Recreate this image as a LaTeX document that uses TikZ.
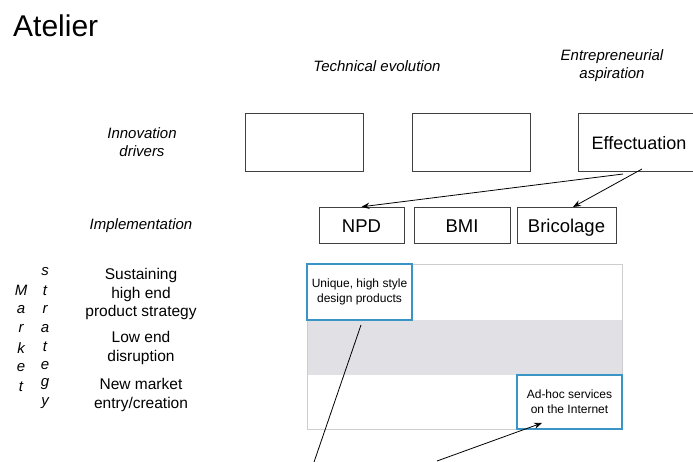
\documentclass[tikz,border=0pt]{standalone}
\usepackage{fontspec}
\setmainfont{Liberation Sans}
\usetikzlibrary{arrows.meta, positioning}
\definecolor{cBlue}{RGB}{58,148,198}
\definecolor{cBand}{RGB}{225,225,229}
\definecolor{cFrame}{RGB}{205,205,208}
\tikzset{
	drvbox/.style={rectangle, draw=black!75, minimum width=118pt, minimum height=58pt, inner sep=0pt, text height=14pt, text depth=0pt, font=\fontsize{18}{20}\selectfont},
	impbox/.style={rectangle, draw=black!75, minimum height=36pt, inner sep=0pt, text height=15pt, text depth=0pt, font=\fontsize{18.5}{20}\selectfont},
	cellbox/.style={rectangle, draw=cBlue, line width=1.3pt, fill=white, inner sep=0pt, align=center, font=\fontsize{12}{15}\selectfont},
	rowlabel/.style={align=center, font=\fontsize{15.5}{18.5}\selectfont},
	headlabel/.style={align=center, font=\itshape\fontsize{15}{18}\selectfont},
	vletter/.style={font=\itshape\fontsize{15}{15}\selectfont, inner sep=0pt},
	flowarrow/.style={-{Stealth[length=2.8mm, width=2.2mm]}, thick},
}
\begin{document}
\begin{tikzpicture}[x=1pt, y=-1pt]
	\useasboundingbox (0,0) rectangle (693,461);
	% title and headings
	\node[anchor=base west, font=\fontsize{30}{30}\selectfont, inner sep=0pt] (title) at (13,36) {Atelier};
	\node[headlabel] (tech) at (377,66) {Technical evolution};
	\node[headlabel] (aspire) at (612,66) {Entrepreneurial\\aspiration};
	\node[headlabel] (drivers) at (142,142) {Innovation\\drivers};
	\node[headlabel] (impl) at (141,226) {Implementation};
	% innovation drivers
	\node[drvbox] (tbox1) at (304,142) {};
	\node[drvbox] (tbox2) at (471,142) {};
	\node[drvbox, minimum width=122pt] (eff) at (639,142) {Effectuation};
	% implementation
	\node[impbox, minimum width=85pt] (npd) at (361.5,225) {NPD};
	\node[impbox, minimum width=96pt] (bmi) at (462,225) {BMI};
	\node[impbox, minimum width=99pt] (bric) at (566.5,225) {Bricolage};
	\draw[flowarrow] (623,174) -- (npd.north);
	\draw[flowarrow] (642,169) -- (573,207);
	% market strategy grid
	\draw[cFrame] (307,264) rectangle (622,429);
	\fill[cBand] (307.5,320) rectangle (621.5,375);
	\node[rowlabel] (sust) at (141,294) {Sustaining\\high end\\product strategy};
	\node[rowlabel] (lowend) at (141,348) {Low end\\disruption};
	\node[rowlabel] (newmkt) at (141,395) {New market\\entry/creation};
	\foreach \ch [count=\i] in {M,a,r,k,e,t}
		\node[vletter] (mkt\i) at (21,{290+19.4*(\i-1)}) {\ch};
	\foreach \ch [count=\i] in {s,t,r,a,t,e,g,y}
		\node[vletter] (str\i) at (45,{272+18.7*(\i-1)}) {\ch};
	\node[cellbox, minimum width=105pt, minimum height=56pt] (unique) at (359.5,292) {Unique, high style\\design products};
	\node[cellbox, minimum width=105pt, minimum height=54pt] (adhoc) at (569.5,402) {Ad-hoc services\\on the Internet};
	\coordinate (foot1) at (313,465);
	\coordinate (foot2) at (437,461);
	\draw[thick] (361,325) -- (foot1);
	\draw[flowarrow] (foot2) -- (542,423);
\end{tikzpicture}
\end{document}
